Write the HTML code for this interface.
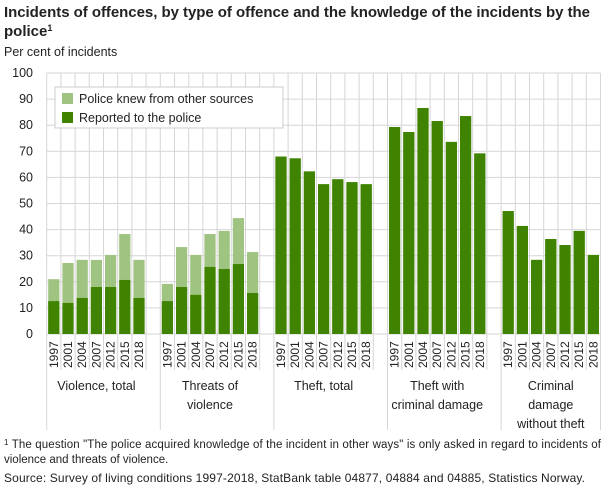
<!DOCTYPE html>
<html><head><meta charset="utf-8"><style>
body{margin:0;background:#fff;font-family:"Liberation Sans",sans-serif;}
svg text{font-family:"Liberation Sans",sans-serif;fill:#222;}
</style></head><body>
<svg width="609" height="488">
<text x="4" y="17" font-size="15" font-weight="bold" fill="#333" textLength="586">Incidents of offences, by type of offence and the knowledge of the incidents by the</text>
<text x="4" y="36" font-size="15" font-weight="bold" fill="#333">police<tspan font-size="9" dy="-5">1</tspan></text>
<text x="4" y="56" font-size="12.5">Per cent of incidents</text>
<g id="grid"></g><g id="bars"></g><g id="xlab"></g>
<g>
<rect x="55" y="87" width="228" height="41" fill="#fff" stroke="#ccc"/>
<rect x="62" y="93" width="11" height="11" fill="#9fc380"/>
<text x="79" y="103" font-size="12.5">Police knew from other sources</text>
<rect x="62" y="112" width="11" height="11" fill="#3f8300"/>
<text x="79" y="122" font-size="12.5">Reported to the police</text>
</g>
<text x="4" y="448" font-size="11.5" textLength="597"><tspan font-size="8" dy="-3">1</tspan><tspan dy="3"> The question "The police acquired knowledge of the incident in other ways" is only asked in regard to incidents of</tspan></text>
<text x="4" y="463" font-size="11.5">violence and threats of violence.</text>
<text x="4" y="482" font-size="12" textLength="581">Source: Survey of living conditions  1997-2018, StatBank table 04877, 04884 and 04885, Statistics Norway.</text>
</svg>
<script>
const groups=["Violence, total","Threats of violence","Theft, total","Theft with criminal damage","Criminal damage without theft"];
const groupLines=[["Violence, total"],["Threats of","violence"],["Theft, total"],["Theft with","criminal damage"],["Criminal","damage","without theft"]];
const years=["1997","2001","2004","2007","2012","2015","2018"];
const reported=[[12.6,11.9,13.8,18,18,20.7,13.8],[12.6,18,15,25.7,24.9,26.8,15.7],[68,67.3,62.3,57.4,59.3,58.2,57.4],[79.3,77.4,86.6,81.6,73.6,83.5,69.2],[47.1,41.4,28.4,36.4,34.1,39.5,30.3]];
const total=[[21,27.2,28.4,28.4,30.3,38.3,28.4],[19.2,33.3,30.3,38.3,39.5,44.4,31.4],[68,67.3,62.3,57.4,59.3,58.2,57.4],[79.3,77.4,86.6,81.6,73.6,83.5,69.2],[47.1,41.4,28.4,36.4,34.1,39.5,30.3]];
const yTicks=[0,10,20,30,40,50,60,70,80,90,100];
const NS="http://www.w3.org/2000/svg";
const x0=46.7,slot=14.2,nSlots=39,yBase=334,yTop=73;
const y=v=>yBase-(v/100)*(yBase-yTop);
const sx=i=>x0+i*slot;
function mk(t,a,p){const e=document.createElementNS(NS,t);for(const k in a)e.setAttribute(k,a[k]);p.appendChild(e);return e;}
const grid=document.getElementById('grid'),bars=document.getElementById('bars'),xl=document.getElementById('xlab');
yTicks.forEach(t=>{
 const l=mk('line',{x1:x0,x2:sx(nSlots),y1:y(t),y2:y(t),stroke:'#d6d6d6','stroke-width':1},grid);
 
 
 const tx=mk('text',{x:33,y:y(t)+4,'font-size':12.5,'text-anchor':'end'},grid);tx.textContent=t;
 
 
});
for(let i=0;i<=nSlots;i++){
 const isG=i%8===0||i===nSlots;
 const l=mk('line',{x1:sx(i),x2:sx(i),y1:yTop,y2:isG?430:370,stroke:'#d6d6d6','stroke-width':1},grid);
 
 
}
groups.forEach((g,gi)=>{
 years.forEach((yr,j)=>{
  const s=gi*8+j,bx=sx(s)+1.5,bw=slot-3;
  const t=mk('rect',{x:bx,y:y(total[gi][j]),width:bw,height:y(0)-y(total[gi][j]),fill:'#9fc380'},bars);
  
  
  const r=mk('rect',{x:bx,y:y(reported[gi][j]),width:bw,height:y(0)-y(reported[gi][j]),fill:'#3f8300'},bars);
  
  
  const cx=sx(s)+slot/2+4;
  const tx=mk('text',{x:cx,y:368,'font-size':12,transform:`rotate(-90 ${cx} 368)`},xl);tx.textContent=yr;
  
  
 });
 const gc=sx(gi*8)+slot*3.5;
 groupLines[gi].forEach((ln,k)=>{
  const tx=mk('text',{x:gc,y:390+k*19,'font-size':12.5,'text-anchor':'middle'},xl);tx.textContent=ln;
  
  
 });
});
</script>
</body></html>
